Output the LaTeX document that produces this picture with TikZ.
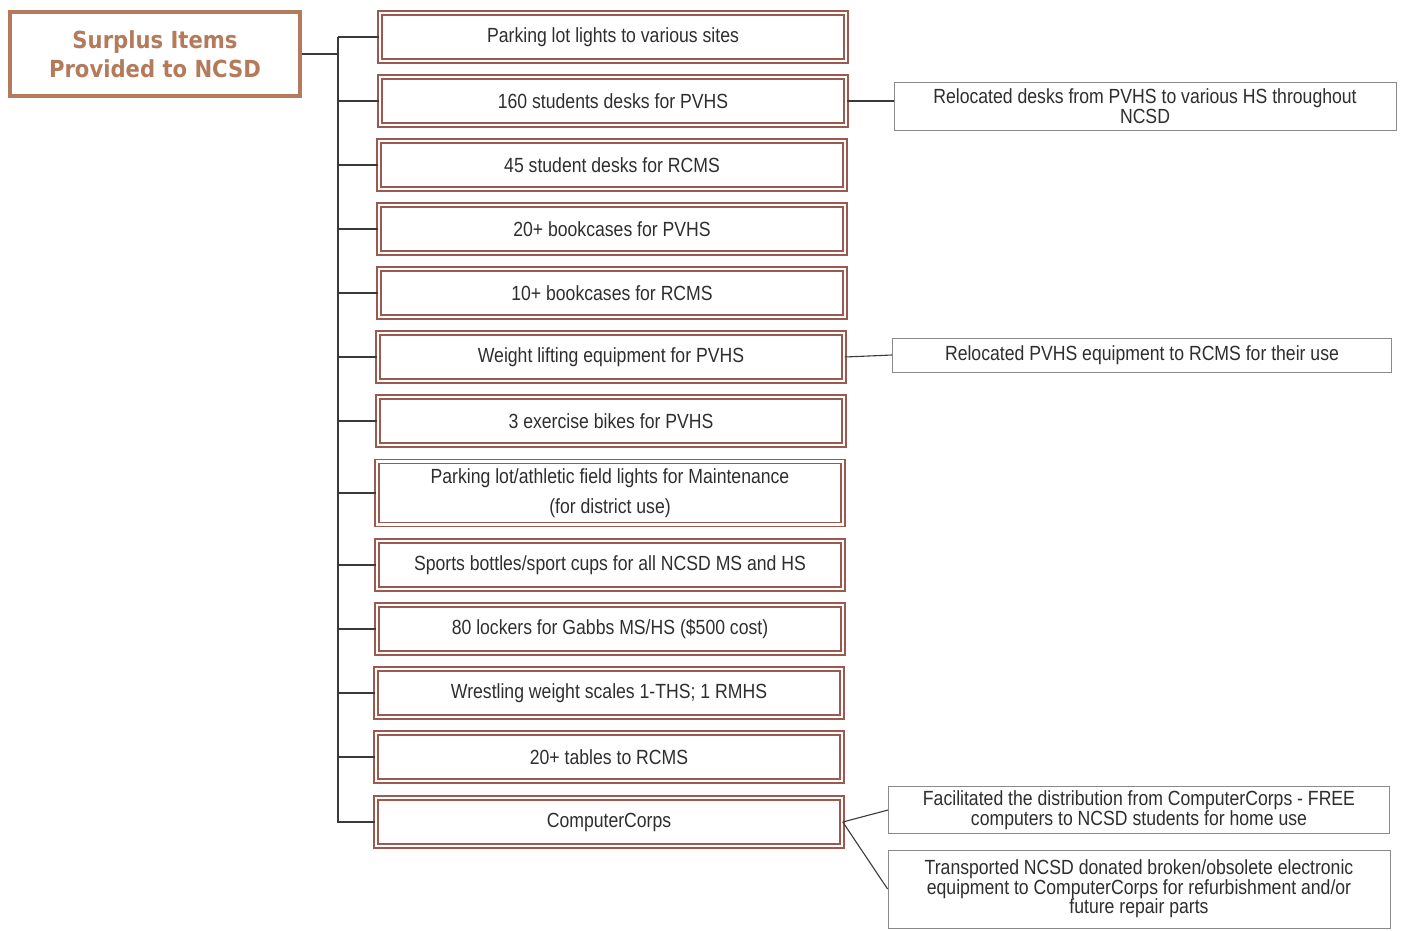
\documentclass[tikz,border=0pt]{standalone}
\usepackage{fontspec}
\setmainfont{Liberation Sans}[FakeStretch=0.86]
\newfontfamily\titlefont{DejaVu Sans}[FakeStretch=0.9]
\definecolor{titlebrown}{HTML}{B47A5C}
\definecolor{itembrown}{HTML}{9A5A50}
\definecolor{txt}{HTML}{2E2E2E}
\definecolor{linec}{HTML}{3A3A3A}
\definecolor{rbox}{HTML}{8A8A8A}
\begin{document}
\begin{tikzpicture}[x=1pt,y=-1pt,
  itembox/.style={draw=itembrown, double=white, double distance=2.4pt, line width=1.5pt,
    minimum width=466pt, minimum height=48pt, inner sep=0pt, align=center,
    text=txt, font=\fontsize{20.5}{30}\selectfont},
  notebox/.style={draw=rbox, line width=0.8pt, fill=white, inner sep=0pt, align=center,
    text=txt, font=\fontsize{20.5}{19.5}\selectfont},
  conn/.style={draw=linec, line width=1.1pt}]
\useasboundingbox (0,0) rectangle (1405,930);
\node[draw=titlebrown, line width=4.5pt, minimum width=290pt, minimum height=84pt, inner sep=0pt,
  align=center, text=titlebrown, font=\titlefont\bfseries\fontsize{23.5}{29}\selectfont]
  (title) at (155,54) {Surplus Items\\Provided to NCSD};
\node[itembox] (i1) at (613,37) {Parking lot lights to various sites};
\node[itembox] (i2) at (613,101) {160 students desks for PVHS};
\node[itembox] (i3) at (612,165) {45 student desks for RCMS};
\node[itembox] (i4) at (612,229) {20+ bookcases for PVHS};
\node[itembox] (i5) at (612,293) {10+ bookcases for RCMS};
\node[itembox] (i6) at (611,357) {Weight lifting equipment for PVHS};
\node[itembox] (i7) at (611,421) {3 exercise bikes for PVHS};
\node[itembox, minimum height=63pt] (i8) at (610,493) {Parking lot/athletic field lights for Maintenance\\(for district use)};
\node[itembox] (i9) at (610,565) {Sports bottles/sport cups for all NCSD MS and HS};
\node[itembox] (i10) at (610,629) {80 lockers for Gabbs MS/HS (\$500 cost)};
\node[itembox] (i11) at (609,693) {Wrestling weight scales 1-THS; 1 RMHS};
\node[itembox] (i12) at (609,757) {20+ tables to RCMS};
\node[itembox] (i13) at (609,822) {ComputerCorps};
\node[notebox, minimum width=502pt, minimum height=48pt] (n1) at (1145,106) {Relocated desks from PVHS to various HS throughout\\NCSD};
\node[notebox, minimum width=499pt, minimum height=34pt] (n2) at (1142,355) {Relocated PVHS equipment to RCMS for their use};
\node[notebox, minimum width=501pt, minimum height=47pt] (n3) at (1139,810) {Facilitated the distribution from ComputerCorps - FREE\\computers to NCSD students for home use};
\node[notebox, minimum width=502pt, minimum height=78pt] (n4) at (1139,889) {Transported NCSD donated broken/obsolete electronic\\equipment to ComputerCorps for refurbishment and/or\\future repair parts};
\coordinate (sptop) at (338,37);
\coordinate (spb) at (338,822);
\draw[conn] (title.east) -- (sptop |- title.east);
\draw[conn] (sptop) -- (spb) -- (i13.west);
\foreach \k in {1,...,12}{\draw[conn] (i\k.west) -- (sptop |- i\k.west);}
\draw[conn] (i2.east) -- (n1.west |- i2.east);
\draw[conn] (i6.east) -- (n2.west);
\draw[conn] (i13.east) -- (n3.west);
\draw[conn] (i13.east) -- (n4.west);
\end{tikzpicture}
\end{document}
